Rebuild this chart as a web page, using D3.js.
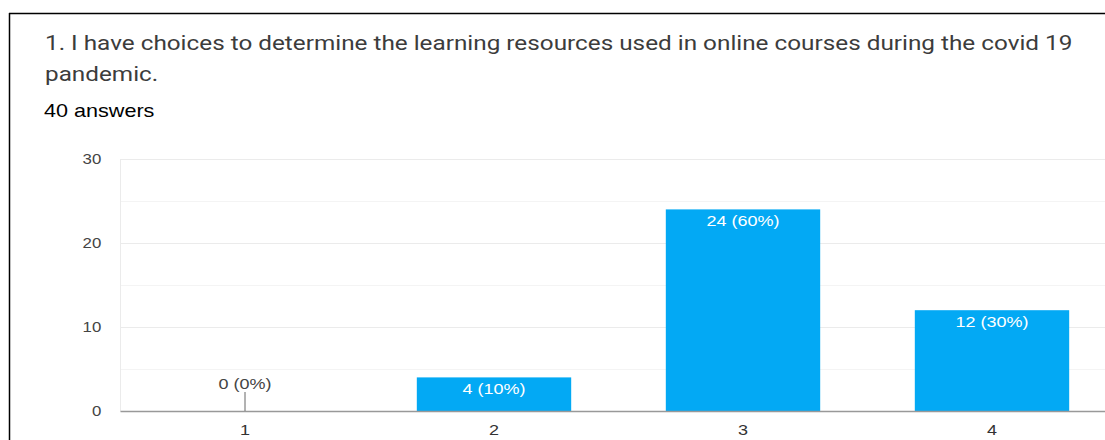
<html>

<head>
    <script src="https://d3js.org/d3.v7.min.js"></script>
    <style>
        body { margin: 0; background: #fff; }
    </style>
</head>

<body>
    <svg id="svg" width="1105" height="440"></svg>

    <script>
        // DATA
        const categories = ["1", "2", "3", "4"]
        const counts = [0, 4, 24, 12]
        const percents = [0, 10, 60, 30]
        const yTicks = [0, 10, 20, 30]
        const minorTicks = [5, 15, 25]
        const titleLines = [
            "1. I have choices to determine the learning resources used in online courses during the covid 19",
            "pandemic."
        ]
        const subtitle = "40 answers"

        // the screenshot is stretched horizontally, so text gets scaleX
        const stretch = 1.2

        // LAYOUT
        const svg = d3.select("#svg")
        const plot = { left: 120.5, right: 1116.5, top: 159, bottom: 411 }

        const x = d3.scaleBand()
            .domain(categories)
            .range([plot.left, plot.right])
            .paddingInner(0.38)
            .paddingOuter(0.19)

        const y = d3.scaleLinear()
            .domain([0, 30])
            .range([plot.bottom, plot.top])

        // frame lines (card border)
        svg.append("line")
            .attr("x1", 9).attr("x2", 1105).attr("y1", 13.5).attr("y2", 13.5)
            .attr("stroke", "#000").attr("stroke-width", 1.5)
        svg.append("line")
            .attr("x1", 9.5).attr("x2", 9.5).attr("y1", 13).attr("y2", 440)
            .attr("stroke", "#000").attr("stroke-width", 1.5)

        // title
        svg.append("g")
            .attr("transform", `translate(45,0) scale(1.215,1)`)
            .selectAll("text")
            .data(titleLines)
            .join("text")
            .attr("x", 0)
            .attr("y", (d, i) => 50 + i * 31)
            .attr("fill", "#3c3c3c")
            .style("font", "20px Roboto, sans-serif")
            .text(d => d)

        svg.append("text")
            .attr("transform", `translate(44,117) scale(${stretch},1)`)
            .attr("fill", "#000")
            .style("font", "18px 'Liberation Sans', Arial, sans-serif")
            .text(subtitle)

        // gridlines
        svg.append("g")
            .selectAll("line")
            .data(minorTicks)
            .join("line")
            .attr("x1", plot.left).attr("x2", 1105)
            .attr("y1", d => Math.round(y(d)) + 0.5).attr("y2", d => Math.round(y(d)) + 0.5)
            .attr("stroke", "#f4f4f4")

        const yAxis = svg.append("g")
            .attr("transform", `translate(${plot.left},0)`)
            .call(d3.axisLeft(y).tickValues(yTicks).tickSize(-(1105 - plot.left)).tickPadding(16))
        yAxis.select(".domain").remove()
        yAxis.selectAll(".tick line")
            .attr("stroke", "#ebebeb")
        yAxis.selectAll(".tick text")
            .attr("transform", `scale(${stretch},1)`)
            .attr("fill", "#444")
            .style("font", "14px 'Liberation Sans', Arial, sans-serif")

        // left vertical axis line
        svg.append("line")
            .attr("x1", plot.left).attr("x2", plot.left)
            .attr("y1", plot.top).attr("y2", plot.bottom)
            .attr("stroke", "#ebebeb")

        // bars
        const bars = categories.map((c, i) => ({ cat: c, count: counts[i], pct: percents[i] }))

        svg.append("g")
            .selectAll("rect")
            .data(bars.filter(d => d.count > 0))
            .join("rect")
            .attr("x", d => x(d.cat))
            .attr("width", x.bandwidth())
            .attr("y", d => y(d.count))
            .attr("height", d => y(0) - y(d.count))
            .attr("fill", "#03a9f4")

        // baseline
        svg.append("line")
            .attr("x1", plot.left).attr("x2", 1105)
            .attr("y1", y(0) + 0.5).attr("y2", y(0) + 0.5)
            .attr("stroke", "#999").attr("stroke-width", 1.5)

        // bar labels
        svg.append("g")
            .selectAll("text")
            .data(bars)
            .join("text")
            .attr("transform", d => {
                const cx = x(d.cat) + x.bandwidth() / 2
                const cy = d.count > 0 ? y(d.count) + 17 : y(0) - 22
                return `translate(${cx},${cy}) scale(${stretch},1)`
            })
            .attr("text-anchor", "middle")
            .attr("fill", d => d.count > 0 ? "#fff" : "#444")
            .style("font", "15px 'Liberation Sans', Arial, sans-serif")
            .text(d => `${d.count} (${d.pct}%)`)

        // stem for zero bars
        svg.append("g")
            .selectAll("line")
            .data(bars.filter(d => d.count === 0))
            .join("line")
            .attr("x1", d => x(d.cat) + x.bandwidth() / 2)
            .attr("x2", d => x(d.cat) + x.bandwidth() / 2)
            .attr("y1", y(0) - 19)
            .attr("y2", y(0))
            .attr("stroke", "#666")

        // x labels
        const xAxis = svg.append("g")
            .attr("transform", `translate(0,${plot.bottom})`)
            .call(d3.axisBottom(x).tickSize(0).tickPadding(13))
        xAxis.select(".domain").remove()
        xAxis.selectAll(".tick text")
            .attr("transform", `scale(${stretch},1)`)
            .attr("fill", "#333")
            .style("font", "15px 'Liberation Sans', Arial, sans-serif")
    </script>
</body>

</html>
